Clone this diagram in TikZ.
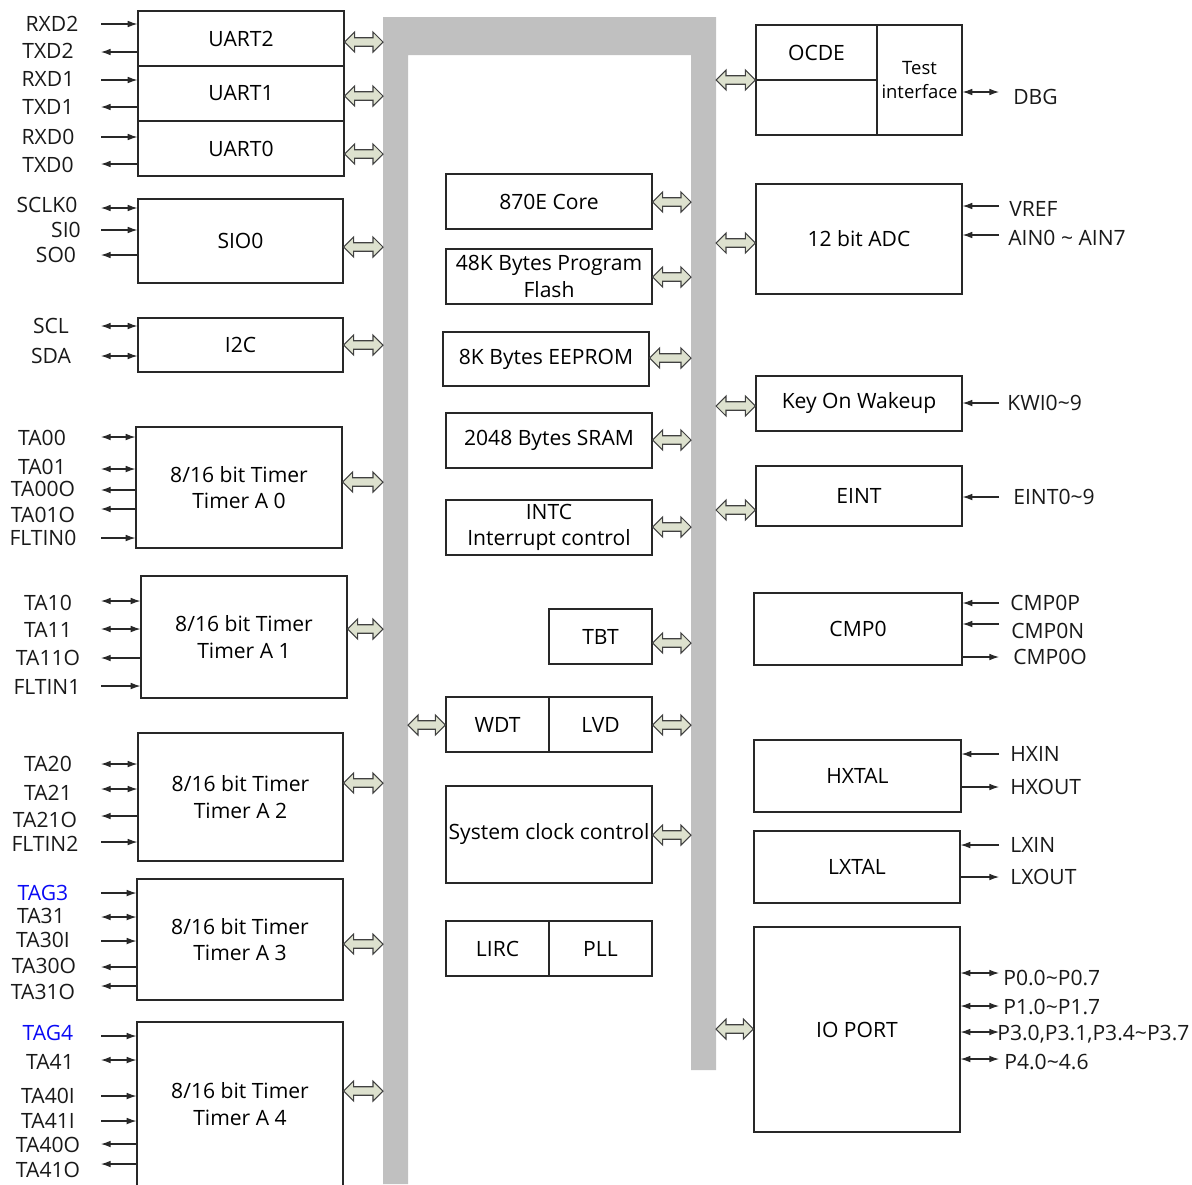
\documentclass[tikz,border=0pt]{standalone}
\usepackage{fontspec}
\setmainfont{Open Sans}
\usetikzlibrary{arrows.meta,calc}
\definecolor{busgray}{RGB}{192,192,192}
\definecolor{arrowfill}{RGB}{221,225,206}
\definecolor{lineblk}{RGB}{40,40,40}
\definecolor{tagblue}{RGB}{10,10,245}

\begin{document}
\begin{tikzpicture}[
  x=0.02cm, y=-0.02cm,
  font=\fontsize{12}{15}\selectfont,
  blk/.style={draw=lineblk, line width=0.7pt, inner sep=0pt, align=center, fill=white},
  boxsize/.style args={#1x#2}{minimum width=#1*0.02cm, minimum height=#2*0.02cm},
  sig/.style={inner sep=0pt, text=black!90},
  sigin/.style={draw=lineblk, line width=0.6pt, -{Latex[length=5.5pt,width=3.8pt]}},
  sigout/.style={draw=lineblk, line width=0.6pt, {Latex[length=5.5pt,width=3.8pt]}-},
  sigboth/.style={draw=lineblk, line width=0.6pt,
    {Latex[length=5.5pt,width=3.8pt]}-{Latex[length=5.5pt,width=3.8pt]}},
  busarr/.style={fill=arrowfill, draw=black!75, line width=0.6pt, to path={
    let \p1=(\tikztostart), \p2=(\tikztotarget) in
    (\x1,\y1) -- (\x1+0.2cm,\y1+0.2cm) -- (\x1+0.2cm,\y1+0.085cm) -- (\x2-0.2cm,\y1+0.085cm)
    -- (\x2-0.2cm,\y1+0.2cm) -- (\x2,\y1) -- (\x2-0.2cm,\y1-0.2cm) -- (\x2-0.2cm,\y1-0.085cm)
    -- (\x1+0.2cm,\y1-0.085cm) -- (\x1+0.2cm,\y1-0.2cm) -- cycle}}
]
\useasboundingbox (0,0) rectangle (1192,1184);

% system bus
\fill[busgray] (383,17) -- (716,17) -- (716,1070) -- (691,1070) -- (691,55)
  -- (408,55) -- (408,1184) -- (383,1184) -- cycle;
\coordinate (busLo) at (383,0);
\coordinate (busLi) at (408,0);
\coordinate (busRi) at (691,0);
\coordinate (busRo) at (716,0);

% left blocks
\node[blk, boxsize=206x55]  (uart2) at (241,38.5)  {UART2};
\node[blk, boxsize=206x55]  (uart1) at (241,93.5)  {UART1};
\node[blk, boxsize=206x55]  (uart0) at (241,148.5) {UART0};
\node[blk, boxsize=205x84]  (sio)   at (240.5,241) {SIO0};
\node[blk, boxsize=205x54]  (iic)   at (240.5,345) {I2C};
\node[blk, boxsize=206x121] (tmra0) at (239,487.5) {8/16 bit Timer\\Timer A 0};
\node[blk, boxsize=206x122] (tmra1) at (244,637)   {8/16 bit Timer\\Timer A 1};
\node[blk, boxsize=205x128] (tmra2) at (240.5,797) {8/16 bit Timer\\Timer A 2};
\node[blk, boxsize=206x121] (tmra3) at (240,939.5) {8/16 bit Timer\\Timer A 3};
\node[blk, boxsize=206x164] (tmra4) at (240,1104)  {8/16 bit Timer\\Timer A 4};

% core blocks
\node[blk, boxsize=206x55] (core)   at (549,201.5) {870E Core};
\node[blk, boxsize=206x55] (flash)  at (549,276.5) {48K Bytes Program\\Flash};
\node[blk, boxsize=206x54] (eeprom) at (546,359)   {8K Bytes EEPROM};
\node[blk, boxsize=206x55] (sram)   at (549,440.5) {2048 Bytes SRAM};
\node[blk, boxsize=206x55] (intc)   at (549,527.5) {INTC\\Interrupt control};
\node[blk, boxsize=103x55] (tbt)    at (600.5,636.5) {TBT};
\node[blk, boxsize=103x55] (wdt)    at (497.5,724.5) {WDT};
\node[blk, boxsize=103x55] (lvd)    at (600.5,724.5) {LVD};
\node[blk, boxsize=206x97] (sysclk) at (549,834.5) {System clock control};
\node[blk, boxsize=103x55] (lirc)   at (497.5,948.5) {LIRC};
\node[blk, boxsize=103x55] (pll)    at (600.5,948.5) {PLL};

% right blocks
\node[blk, boxsize=121x55]  (ocde)   at (816.5,52.5)  {OCDE};
\node[blk, boxsize=121x55]  (ocdeb)  at (816.5,107.5) {};
\node[blk, boxsize=85x110, font=\fontsize{10.5}{13.5}\selectfont]
                            (testif) at (919.5,80)    {Test\\interface};
\node[blk, boxsize=206x110] (adc)    at (859,239)     {12 bit ADC};
\node[blk, boxsize=206x55]  (kow)    at (859,403.5)   {Key On Wakeup};
\node[blk, boxsize=206x60]  (eint)   at (859,496)     {EINT};
\node[blk, boxsize=208x72]  (cmp)    at (858,629)     {CMP0};
\node[blk, boxsize=207x72]  (hxtal)  at (857.5,776)   {HXTAL};
\node[blk, boxsize=206x72]  (lxtal)  at (857,867)     {LXTAL};
\node[blk, boxsize=206x205] (ioport) at (857,1029.5)  {IO PORT};

% bus connections
\draw[busarr] (uart2.east |- 0,42)   to (busLo |- 0,42);
\draw[busarr] (uart1.east |- 0,96)   to (busLo |- 0,96);
\draw[busarr] (uart0.east |- 0,154)  to (busLo |- 0,154);
\draw[busarr] (sio.east |- 0,247)    to (busLo |- 0,247);
\draw[busarr] (iic.east |- 0,345)    to (busLo |- 0,345);
\draw[busarr] (tmra0.east |- 0,482)  to (busLo |- 0,482);
\draw[busarr] (tmra1.east |- 0,629)  to (busLo |- 0,629);
\draw[busarr] (tmra2.east |- 0,783)  to (busLo |- 0,783);
\draw[busarr] (tmra3.east |- 0,944)  to (busLo |- 0,944);
\draw[busarr] (tmra4.east |- 0,1091) to (busLo |- 0,1091);
\draw[busarr] (core.east |- 0,202)   to (busRi |- 0,202);
\draw[busarr] (flash.east |- 0,277)  to (busRi |- 0,277);
\draw[busarr] (eeprom.east |- 0,358) to (busRi |- 0,358);
\draw[busarr] (sram.east |- 0,440)   to (busRi |- 0,440);
\draw[busarr] (intc.east |- 0,527)   to (busRi |- 0,527);
\draw[busarr] (tbt.east |- 0,643)    to (busRi |- 0,643);
\draw[busarr] (lvd.east |- 0,725)    to (busRi |- 0,725);
\draw[busarr] (sysclk.east |- 0,835) to (busRi |- 0,835);
\draw[busarr] (busLi |- 0,725)  to (wdt.west |- 0,725);
\draw[busarr] (busRo |- 0,80)   to (ocde.west |- 0,80);
\draw[busarr] (busRo |- 0,243)  to (adc.west |- 0,243);
\draw[busarr] (busRo |- 0,406)  to (kow.west |- 0,406);
\draw[busarr] (busRo |- 0,510)  to (eint.west |- 0,510);
\draw[busarr] (busRo |- 0,1029) to (ioport.west |- 0,1029);

% left pins
\foreach \name/\ya/\yl/\lx/\dir/\bx in {
  RXD2/24/24/52/sigin/uart2, TXD2/52/51/48/sigout/uart2,
  RXD1/80/79/48/sigin/uart1, TXD1/107/107/48/sigout/uart1,
  RXD0/137/137/48/sigin/uart0, TXD0/164/165/48/sigout/uart0,
  SCLK0/208/205/47/sigboth/sio, SI0/230/230/66/sigin/sio, SO0/255/255/56/sigout/sio,
  SCL/326/326/51/sigboth/iic, SDA/356/356/51/sigboth/iic,
  TA00/437/438/42/sigboth/tmra0, TA01/469/467/42/sigboth/tmra0,
  TA00O/490/489/43/sigout/tmra0, TA01O/509/515/43/sigout/tmra0,
  FLTIN0/538/538/43/sigin/tmra0,
  TA10/601/603/48/sigboth/tmra1, TA11/629/630/48/sigboth/tmra1,
  TA11O/658/658/48/sigout/tmra1, FLTIN1/686/687/47/sigin/tmra1,
  TA20/764/764/48/sigboth/tmra2, TA21/789/793/48/sigboth/tmra2,
  TA21O/816/820/45/sigout/tmra2, FLTIN2/842/844/45/sigin/tmra2,
  TA31/917/916/41/sigboth/tmra3, TA30I/941/940/43/sigin/tmra3,
  TA30O/967/966/44/sigout/tmra3, TA31O/986/992/43/sigout/tmra3,
  TA41/1060/1062/50/sigboth/tmra4, TA40I/1096/1096/48/sigin/tmra4,
  TA41I/1121/1121/48/sigin/tmra4, TA40O/1144/1145/48/sigout/tmra4,
  TA41O/1164/1170/48/sigout/tmra4}
{
  \node[sig] (l\name) at (\lx,\yl) {\name};
  \coordinate (e\name) at (101,\ya);
  \draw[\dir] (e\name) -- (e\name -| \bx.west);
}
\node[sig, text=tagblue] (lTAG3) at (43,893) {TAG3};
\coordinate (eTAG3) at (101,893);
\draw[sigin] (eTAG3) -- (eTAG3 -| tmra3.west);
\node[sig, text=tagblue] (lTAG4) at (48,1033) {TAG4};
\coordinate (eTAG4) at (101,1036);
\draw[sigin] (eTAG4) -- (eTAG4 -| tmra4.west);

% right pins
\foreach \nm/\txt/\ya/\yl/\lx/\dir/\bx in {
  dbg/DBG/92/97/1013/sigboth/testif,
  vref/VREF/206/209/1009/sigin/adc,
  ain/AIN0 \textasciitilde{} AIN7/235/238/1008/sigin/adc,
  kwi/KWI0\textasciitilde 9/403/403/1007/sigin/kow,
  eint/EINT0\textasciitilde 9/497/497/1013/sigin/eint,
  cmpp/CMP0P/603/603/1010/sigin/cmp,
  cmpn/CMP0N/624/631/1011/sigin/cmp,
  cmpo/CMP0O/657/657/1013/sigout/cmp,
  hxin/HXIN/754/754/1010/sigin/hxtal,
  hxout/HXOUT/787/787/1010/sigout/hxtal,
  lxin/LXIN/845/845/1010/sigin/lxtal,
  lxout/LXOUT/877/877/1010/sigout/lxtal,
  p0/P0.0\textasciitilde P0.7/973/978/1003/sigboth/ioport,
  p1/P1.0\textasciitilde P1.7/1006/1007/1003/sigboth/ioport,
  p3/{P3.0,P3.1,P3.4\textasciitilde P3.7}/1032/1034/997/sigboth/ioport,
  p4/P4.0\textasciitilde 4.6/1059/1062/1004/sigboth/ioport}
{
  \node[sig, anchor=west] (l\nm) at (\lx,\yl) {\txt};
  \coordinate (e\nm) at (999,\ya);
  \draw[\dir] (e\nm) -- (e\nm -| \bx.east);
}
\end{tikzpicture}
\end{document}
